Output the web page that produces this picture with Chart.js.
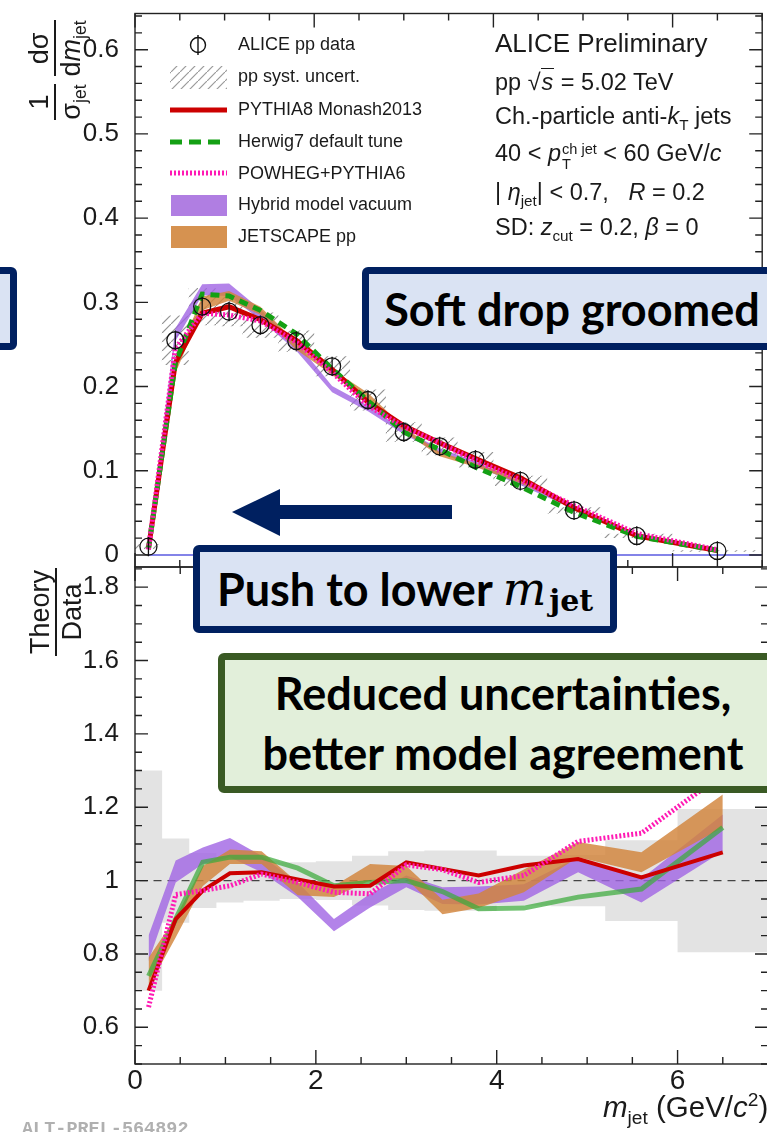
<!DOCTYPE html>
<html>
<head>
<meta charset="utf-8">
<script src="https://cdn.jsdelivr.net/npm/chart.js@4.4.1/dist/chart.umd.min.js"></script>
<style>
html,body{margin:0;padding:0;background:#fff;}
body{width:767px;height:1132px;overflow:hidden;position:relative;font-family:'Liberation Sans',Arial,Helvetica,sans-serif;color:#1a1a1a;}
canvas{position:absolute;left:0;}
#cTop{top:0;width:772px;height:580px;}
#cBot{top:560px;width:772px;height:572px;}
#ovl{position:absolute;left:0;top:0;width:767px;height:1132px;}
.abs{position:absolute;white-space:nowrap;line-height:1;}
.leg{font-size:18px;left:238px;height:18px;}
.info{font-size:23.5px;left:495px;height:24px;}
sub,sup{font-size:0.65em;line-height:0;}
.ss{display:inline-flex;flex-direction:column;font-size:0.62em;line-height:1.05;vertical-align:0.45em;margin-left:1px;}
.ytitle{display:flex;align-items:center;justify-content:center;transform:rotate(-90deg);font-size:27px;}
.frac{display:inline-flex;flex-direction:column;align-items:stretch;text-align:center;margin:0 4px;line-height:1.05;}
.frac .n{border-bottom:2px solid #1a1a1a;padding:0 2px 1px;}
.frac .d{padding-top:1px;}
.box{position:absolute;box-sizing:border-box;border-radius:6px;display:flex;align-items:center;justify-content:center;font-family:'Lato','Open Sans',sans-serif;font-weight:700;color:#000;white-space:nowrap;}
.blue{background:#dae3f3;border:7px solid #002060;}
.green{background:#e2efda;border:7px solid #3a5a24;}
.mi{font-family:'DejaVu Serif',serif;font-style:italic;font-weight:400;font-size:46px;}
.msub{font-family:'DejaVu Serif',serif;font-weight:700;font-size:30px;position:relative;top:11px;margin-left:3px;}
</style>
</head>
<body>
<canvas id="cTop" width="772" height="580"></canvas>
<canvas id="cBot" width="772" height="572"></canvas>

<svg id="ovl" width="767" height="1132" xmlns="http://www.w3.org/2000/svg">
  <defs>
    <pattern id="hp" patternUnits="userSpaceOnUse" width="9" height="9">
      <path d="M-1,10 L10,-1" stroke="#9a9a9a" stroke-width="1.2"/>
    </pattern>
  </defs>
  <circle cx="198" cy="45" r="7.5" fill="none" stroke="#111" stroke-width="1.4"/>
  <line x1="198" y1="35" x2="198" y2="55" stroke="#111" stroke-width="1.4"/>
  <rect x="170" y="66" width="57" height="23" fill="url(#hp)"/>
  <line x1="170" y1="110" x2="227" y2="110" stroke="#cc0000" stroke-width="5"/>
  <line x1="170" y1="142" x2="227" y2="142" stroke="#14a014" stroke-width="5" stroke-dasharray="12,7"/>
  <line x1="170" y1="173" x2="227" y2="173" stroke="#ff1ab4" stroke-width="5" stroke-dasharray="2,2"/>
  <rect x="171" y="195" width="56" height="21" fill="rgb(176,126,226)"/>
  <rect x="171" y="226" width="56" height="22" fill="rgb(214,146,80)"/>
  <polygon points="232,512 280,489 280,505 452,505 452,519 280,519 280,536" fill="#002060"/>
</svg>

<div class="abs leg" style="top:35px">ALICE pp data</div>
<div class="abs leg" style="top:67px">pp syst. uncert.</div>
<div class="abs leg" style="top:100px">PYTHIA8 Monash2013</div>
<div class="abs leg" style="top:132px">Herwig7 default tune</div>
<div class="abs leg" style="top:163.5px">POWHEG+PYTHIA6</div>
<div class="abs leg" style="top:195px">Hybrid model vacuum</div>
<div class="abs leg" style="top:227px">JETSCAPE pp</div>

<div class="abs info" style="top:30px;font-size:26px">ALICE Preliminary</div>
<div class="abs info" style="top:70.5px">pp √<span style="border-top:1.5px solid #1a1a1a;font-style:italic;padding:0 1px">s</span> = 5.02 TeV</div>
<div class="abs info" style="top:104.5px">Ch.-particle anti-<i>k</i><sub>T</sub> jets</div>
<div class="abs info" style="top:141.5px">40 &lt; <i>p</i><span class="ss"><span>ch jet</span><span>T</span></span> &lt; 60 GeV/<i>c</i></div>
<div class="abs info" style="top:181px">| <i>η</i><sub>jet</sub>| &lt; 0.7, &nbsp;&nbsp;<i>R</i> = 0.2</div>
<div class="abs info" style="top:216px">SD: <i>z</i><sub>cut</sub> = 0.2, <i>β</i> = 0</div>

<div class="abs ytitle" style="left:-5px;top:40px;width:120px;height:60px;">
  <span class="frac"><span class="n">1</span><span class="d">σ<sub>jet</sub></span></span>
  <span class="frac"><span class="n">dσ</span><span class="d">d<i>m</i><sub>jet</sub></span></span>
</div>
<div class="abs ytitle" style="left:10px;top:582px;width:92px;height:60px;">
  <span class="frac"><span class="n">Theory</span><span class="d">Data</span></span>
</div>
<div class="abs" style="left:603px;top:1092px;font-size:29.5px;"><i>m</i><sub>jet</sub> (GeV/<i>c</i><sup>2</sup>)</div>
<div class="abs" style="left:22px;top:1119px;font:bold 18.5px 'Liberation Mono',monospace;color:#b0b0b0;">ALT-PREL-564892</div>

<div class="box blue" style="left:-60px;top:267px;width:77px;height:83px;"></div>
<div class="box blue" style="left:362px;top:267px;width:420px;height:83px;font-size:45px;">Soft drop groomed</div>
<div class="box blue" style="left:193px;top:545px;width:424px;height:88px;font-size:45px;">Push to lower&nbsp;<span class="mi">m</span><span class="msub">jet</span></div>
<div class="box green" style="left:218px;top:653px;width:570px;height:140px;font-size:45px;line-height:60px;text-align:center;"><div>Reduced uncertainties,<br>better model agreement</div></div>

<script>
// ---------------- data ----------------
const binEdges = [0, 0.3, 0.6, 0.9, 1.2, 1.6, 2.0, 2.4, 2.8, 3.2, 3.6, 4.0, 4.6, 5.2, 6.0, 7.0];
const mJet = [0.15, 0.45, 0.75, 1.05, 1.4, 1.8, 2.2, 2.6, 3.0, 3.4, 3.8, 4.3, 4.9, 5.6, 6.5];

const aliceData = [0.0099, 0.255, 0.295, 0.289, 0.273, 0.254, 0.224, 0.184, 0.146, 0.129, 0.113, 0.088, 0.053, 0.0226, 0.0048];
const aliceStat = [0.0015, 0.005, 0.006, 0.006, 0.005, 0.005, 0.004, 0.004, 0.003, 0.003, 0.003, 0.002, 0.0015, 0.001, 0.0008];
const aliceSystRel = [0.30, 0.115, 0.075, 0.06, 0.055, 0.05, 0.053, 0.068, 0.08, 0.082, 0.082, 0.068, 0.07, 0.11, 0.195];

const pythiaTop = [0.0069, 0.2282, 0.2870, 0.2948, 0.2793, 0.2548, 0.2204, 0.1814, 0.1533, 0.1331, 0.1146, 0.0916, 0.0561, 0.0228, 0.0052];
const herwigTop = [0.0073, 0.2282, 0.3098, 0.3075, 0.2905, 0.2626, 0.2209, 0.1831, 0.1460, 0.1251, 0.1043, 0.0814, 0.0506, 0.0221, 0.0055];
const powhegTop = [0.0065, 0.2453, 0.2870, 0.2850, 0.2779, 0.2527, 0.2168, 0.1774, 0.1523, 0.1329, 0.1124, 0.0892, 0.0587, 0.0255, 0.0062];
const hybridTopLow  = [0.0077, 0.2537, 0.3083, 0.3075, 0.2793, 0.2426, 0.1931, 0.1706, 0.1434, 0.1207, 0.1057, 0.0832, 0.0542, 0.0212, 0.0052];
const hybridTopHigh = [0.0084, 0.2690, 0.3216, 0.3225, 0.2916, 0.2527, 0.2005, 0.1774, 0.1480, 0.1267, 0.1112, 0.0871, 0.0564, 0.0227, 0.0057];
const jetscapeTopLow  = [0.0070, 0.2155, 0.2906, 0.3020, 0.2853, 0.2438, 0.2139, 0.1840, 0.1467, 0.1171, 0.1045, 0.0852, 0.0564, 0.0231, 0.0055];
const jetscapeTopHigh = [0.0078, 0.2295, 0.3068, 0.3136, 0.2948, 0.2527, 0.2206, 0.1923, 0.1518, 0.1223, 0.1090, 0.0906, 0.0586, 0.0243, 0.0059];

const pythiaRatio = [0.70, 0.895, 0.973, 1.02, 1.023, 1.003, 0.984, 0.986, 1.05, 1.032, 1.014, 1.041, 1.059, 1.009, 1.077];
const herwigRatio = [0.74, 0.895, 1.05, 1.064, 1.064, 1.034, 0.986, 0.995, 1.0, 0.97, 0.923, 0.925, 0.955, 0.977, 1.145];
const powhegRatio = [0.655, 0.962, 0.973, 0.986, 1.018, 0.995, 0.968, 0.964, 1.043, 1.03, 0.995, 1.014, 1.107, 1.129, 1.29];
const hybridRatioLow  = [0.78, 0.995, 1.045, 1.064, 1.023, 0.955, 0.862, 0.927, 0.982, 0.936, 0.935, 0.945, 1.023, 0.94, 1.08];
const hybridRatioHigh = [0.85, 1.055, 1.09, 1.116, 1.068, 0.995, 0.895, 0.964, 1.014, 0.982, 0.984, 0.99, 1.064, 1.005, 1.18];
const jetscapeRatioLow  = [0.71, 0.845, 0.985, 1.045, 1.045, 0.96, 0.955, 1.0, 1.005, 0.908, 0.925, 0.968, 1.064, 1.023, 1.145];
const jetscapeRatioHigh = [0.79, 0.9, 1.04, 1.085, 1.08, 0.995, 0.985, 1.045, 1.04, 0.948, 0.965, 1.03, 1.105, 1.077, 1.235];

const topYTicks = [0, 0.1, 0.2, 0.3, 0.4, 0.5, 0.6];
const topYTickLabels = ['0', '0.1', '0.2', '0.3', '0.4', '0.5', '0.6'];
const ratioYTicks = [0.6, 0.8, 1.0, 1.2, 1.4, 1.6, 1.8];
const ratioYTickLabels = ['0.6', '0.8', '1', '1.2', '1.4', '1.6', '1.8'];
const xTicks = [0, 2, 4, 6];
const xTickLabels = ['0', '2', '4', '6'];

// ---------------- styling ----------------
const FONT = "'Liberation Sans', Arial, Helvetica, sans-serif";
Chart.defaults.font.family = FONT;
const C_RED = '#cc0000', C_GREEN = '#14a014', C_MAG = '#ff1ab4';
const C_PURPLE = 'rgba(160,100,228,0.80)', C_ORANGE = 'rgba(210,132,58,0.82)';
const C_GREEN_R = 'rgba(60,170,60,0.72)';
const NONE = 'rgba(0,0,0,0)';

const atCenters = ys => mJet.map((x, i) => ({x, y: ys[i]}));
const asSteps = ys => binEdges.map((x, i) => ({x, y: ys[Math.min(i, ys.length - 1)]}));
const hidden = (data, order, extra) => Object.assign({data, order, borderColor: NONE, borderWidth: 0, pointRadius: 0, fill: false, tension: 0}, extra || {});
const noPad = w => s => { if (w.width !== undefined) s.width = w.width; if (w.height !== undefined) s.height = w.height; s.paddingTop = 0; s.paddingBottom = 0; s.paddingLeft = 0; s.paddingRight = 0; };

function makeHatch(ctx) {
  const c = document.createElement('canvas'); c.width = 9; c.height = 9;
  const g = c.getContext('2d');
  g.strokeStyle = 'rgba(140,140,140,0.95)'; g.lineWidth = 1.2;
  g.beginPath(); g.moveTo(-1, 10); g.lineTo(10, -1); g.stroke();
  return ctx.createPattern(c, 'repeat');
}

const frameTicks = {
  id: 'frameTicks',
  afterDatasetsDraw(chart, args, o) {
    const {ctx, chartArea: a} = chart; const xs = chart.scales.x, ys = chart.scales.y;
    const X = v => xs.getPixelForValue(v), Y = v => ys.getPixelForValue(v);
    const maj = (v, s) => Math.abs(v / s - Math.round(v / s)) < 1e-6;
    ctx.save();
    ctx.strokeStyle = '#222'; ctx.lineWidth = 1.4;
    ctx.beginPath();
    for (let k = Math.ceil(xs.min / o.xMinor - 1e-9); k * o.xMinor <= xs.max + 1e-9; k++) {
      const v = k * o.xMinor, L = maj(v, o.xMajor) ? 14 : 7, p = X(v);
      ctx.moveTo(p, a.bottom); ctx.lineTo(p, a.bottom - L);
      ctx.moveTo(p, a.top); ctx.lineTo(p, a.top + L);
    }
    for (let k = Math.ceil(ys.min / o.yMinor - 1e-9); k * o.yMinor <= ys.max + 1e-9; k++) {
      const v = k * o.yMinor, L = maj(v, o.yMajor) ? 13 : 7, p = Y(v);
      ctx.moveTo(a.left, p); ctx.lineTo(a.left + L, p);
      ctx.moveTo(a.right, p); ctx.lineTo(a.right - L, p);
    }
    ctx.stroke();
    ctx.strokeRect(a.left, a.top, a.right - a.left, a.bottom - a.top);
    ctx.restore();
  }
};

const errBars = {
  id: 'errBars',
  afterDatasetsDraw(chart) {
    const {ctx} = chart; const xs = chart.scales.x, ys = chart.scales.y;
    ctx.save(); ctx.strokeStyle = '#111'; ctx.lineWidth = 1.3; ctx.beginPath();
    mJet.forEach((m, i) => {
      const px = xs.getPixelForValue(m);
      const lo = Math.min(aliceData[i] - aliceStat[i], aliceData[i] - 0.0115);
      const hi = Math.max(aliceData[i] + aliceStat[i], aliceData[i] + 0.0115);
      ctx.moveTo(px, ys.getPixelForValue(lo)); ctx.lineTo(px, ys.getPixelForValue(hi));
    });
    ctx.stroke(); ctx.restore();
  }
};

// ---------------- top panel ----------------
const topCtx = document.getElementById('cTop').getContext('2d');
const hatch = makeHatch(topCtx);
const systLoTop = aliceData.map((v, i) => v * (1 - aliceSystRel[i]));
const systHiTop = aliceData.map((v, i) => v * (1 + aliceSystRel[i]));

new Chart(topCtx, {
  type: 'line',
  data: {
    datasets: [
      hidden(asSteps(systLoTop), 100, {stepped: true}),
      hidden(asSteps(systHiTop), 100, {stepped: true, fill: '-1', backgroundColor: hatch}),
      hidden(atCenters(hybridTopLow), 80),
      hidden(atCenters(hybridTopHigh), 80, {fill: '-1', backgroundColor: C_PURPLE}),
      hidden(atCenters(jetscapeTopLow), 70),
      hidden(atCenters(jetscapeTopHigh), 70, {fill: '-1', backgroundColor: C_ORANGE}),
      {data: atCenters(pythiaTop), order: 50, borderColor: C_RED, borderWidth: 5, pointRadius: 0, fill: false, tension: 0},
      {data: atCenters(herwigTop), order: 45, borderColor: C_GREEN, borderWidth: 5, borderDash: [9, 6], pointRadius: 0, fill: false, tension: 0},
      {data: atCenters(powhegTop), order: 40, borderColor: C_MAG, borderWidth: 5, borderDash: [2, 2], pointRadius: 0, fill: false, tension: 0},
      {data: [{x: 0.15, y: 0}, {x: 7.0, y: 0}], order: 95, borderColor: '#5a5ae0', borderWidth: 1.5, pointRadius: 0, fill: false},
      {data: atCenters(aliceData), order: 10, showLine: false, pointStyle: 'circle', pointRadius: 8.5, pointBorderColor: '#111', pointBackgroundColor: NONE, pointBorderWidth: 1.3, borderColor: NONE}
    ]
  },
  options: {
    responsive: false, animation: false, devicePixelRatio: 1,
    layout: {padding: {top: 13.5, bottom: 13, left: 0, right: 4}},
    plugins: {legend: {display: false}, tooltip: {enabled: false},
      frameTicks: {xMinor: 0.5, xMajor: 2, yMinor: 0.02, yMajor: 0.1}},
    scales: {
      x: {type: 'linear', min: 0, max: 7, display: false},
      y: {type: 'linear', min: -0.0143, max: 0.643, position: 'left',
        afterFit: noPad({width: 135}),
        afterBuildTicks: s => { s.ticks = topYTicks.map(v => ({value: v})); },
        ticks: {callback: (v, i) => topYTickLabels[i], font: {size: 26}, color: '#1a1a1a', padding: 8},
        grid: {display: false}, border: {display: false}}
    }
  },
  plugins: [frameTicks, errBars]
});

// ---------------- ratio panel ----------------
const botCtx = document.getElementById('cBot').getContext('2d');
const systLoR = aliceSystRel.map(r => 1 - r);
const systHiR = aliceSystRel.map(r => 1 + r);

new Chart(botCtx, {
  type: 'line',
  data: {
    datasets: [
      hidden(asSteps(systLoR), 100, {stepped: true}),
      hidden(asSteps(systHiR), 100, {stepped: true, fill: '-1', backgroundColor: '#e3e3e3'}),
      {data: [{x: 0.05, y: 1}, {x: 7.0, y: 1}], order: 90, borderColor: '#444', borderWidth: 1.2, borderDash: [8, 6], pointRadius: 0, fill: false},
      hidden(atCenters(hybridRatioLow), 80),
      hidden(atCenters(hybridRatioHigh), 80, {fill: '-1', backgroundColor: C_PURPLE}),
      hidden(atCenters(jetscapeRatioLow), 70),
      hidden(atCenters(jetscapeRatioHigh), 70, {fill: '-1', backgroundColor: C_ORANGE}),
      {data: atCenters(herwigRatio), order: 60, borderColor: C_GREEN_R, borderWidth: 5, pointRadius: 0, fill: false, tension: 0},
      {data: atCenters(pythiaRatio), order: 50, borderColor: C_RED, borderWidth: 4, pointRadius: 0, fill: false, tension: 0},
      {data: atCenters(powhegRatio), order: 40, borderColor: C_MAG, borderWidth: 5, borderDash: [2, 2], pointRadius: 0, fill: false, tension: 0}
    ]
  },
  options: {
    responsive: false, animation: false, devicePixelRatio: 1,
    layout: {padding: {top: 7, bottom: 0, left: 0, right: 4}},
    plugins: {legend: {display: false}, tooltip: {enabled: false},
      frameTicks: {xMinor: 0.5, xMajor: 2, yMinor: 0.05, yMajor: 0.2}},
    scales: {
      x: {type: 'linear', min: 0, max: 7, position: 'bottom',
        afterFit: noPad({height: 68}),
        afterBuildTicks: s => { s.ticks = xTicks.map(v => ({value: v})); },
        ticks: {callback: (v, i) => xTickLabels[i], font: {size: 28, lineHeight: 1}, color: '#1a1a1a', padding: -5, maxRotation: 0, autoSkip: false},
        grid: {display: false}, border: {display: false}},
      y: {type: 'linear', min: 0.5, max: 1.855, position: 'left',
        afterFit: noPad({width: 135}),
        afterBuildTicks: s => { s.ticks = ratioYTicks.map(v => ({value: v})); },
        ticks: {callback: (v, i) => ratioYTickLabels[i], font: {size: 26}, color: '#1a1a1a', padding: 8},
        grid: {display: false}, border: {display: false}}
    }
  },
  plugins: [frameTicks]
});
</script>
</body>
</html>
